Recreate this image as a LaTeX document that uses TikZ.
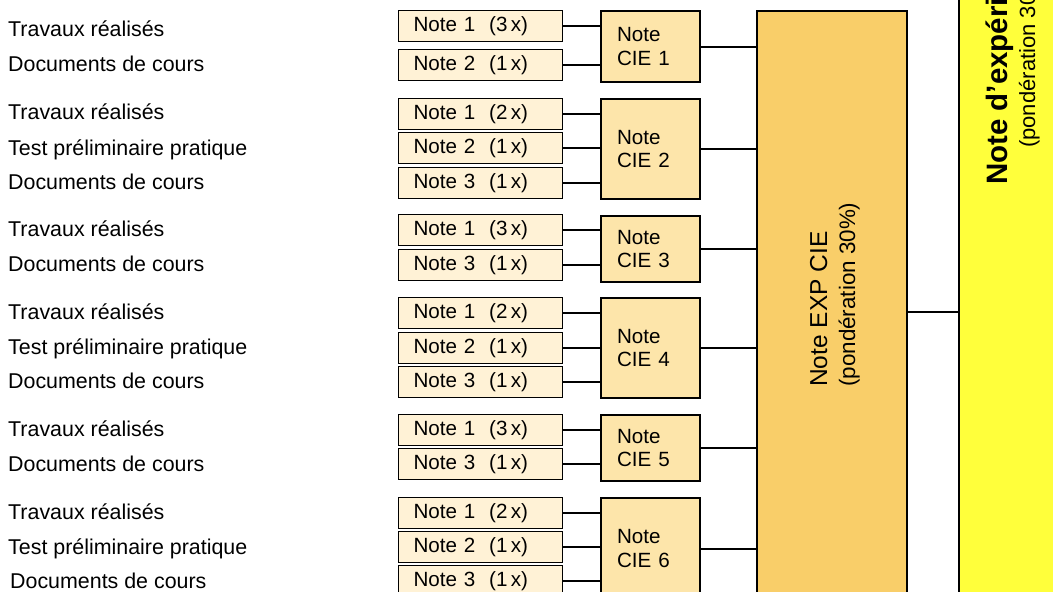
\documentclass[tikz,border=0pt]{standalone}
\usepackage{fontspec}
\setmainfont{Liberation Sans}
\definecolor{notefill}{RGB}{255,242,214}
\definecolor{ciefill}{RGB}{253,229,170}
\definecolor{expfill}{RGB}{249,206,105}
\definecolor{yelfill}{RGB}{255,255,59}
\tikzset{
  notebox/.style={draw, line width=1.2pt, fill=notefill, minimum height=31pt,
    text width=134pt, inner xsep=15pt, inner ysep=0pt, align=left,
    font=\fontsize{20.6}{23.6}\selectfont, anchor=north west},
  ciebox/.style={draw, line width=2.2pt, fill=ciefill, text width=67pt,
    inner xsep=16pt, inner ysep=0pt, align=left,
    font=\fontsize{20.6}{23.6}\selectfont, anchor=north west},
  lab/.style={anchor=base west, inner sep=0pt, font=\fontsize{21.4}{25}\selectfont},
  rottext/.style={rotate=90, anchor=base west, inner sep=0pt},
  link/.style={line width=2pt},
}
\begin{document}
\begin{tikzpicture}[x=1pt,y=-1pt]
\useasboundingbox (0,0) rectangle (1053,592);
\clip (0,0) rectangle (1053,592);
\fill[white] (0,0) rectangle (1053,592);

% left labels
\node[lab] (l11) at (8,36.5) {Travaux réalisés};
\node[lab] (l12) at (8,71.5) {Documents de cours};
\node[lab] (l21) at (8,119.5) {Travaux réalisés};
\node[lab] (l22) at (8,155) {Test préliminaire pratique};
\node[lab] (l23) at (8,189) {Documents de cours};
\node[lab] (l31) at (8,236.5) {Travaux réalisés};
\node[lab] (l33) at (8,271.5) {Documents de cours};
\node[lab] (l41) at (8,319.5) {Travaux réalisés};
\node[lab] (l42) at (8,354.5) {Test préliminaire pratique};
\node[lab] (l43) at (8,388.5) {Documents de cours};
\node[lab] (l51) at (8,436.5) {Travaux réalisés};
\node[lab] (l53) at (8,471.5) {Documents de cours};
\node[lab] (l61) at (8,519.5) {Travaux réalisés};
\node[lab] (l62) at (8,554.5) {Test préliminaire pratique};
\node[lab] (l63) at (10,588.5) {Documents de cours};

% big boxes
\node[draw, line width=2pt, fill=yelfill, minimum width=130pt, minimum height=660pt,
  anchor=west, inner sep=0pt] (yel) at (958,311) {};
\node[draw, line width=2pt, fill=expfill, minimum width=150pt, minimum height=602pt,
  anchor=north west, inner sep=0pt] (exp) at (756,10) {};

% note boxes
\node[notebox] (n11) at (398,10) {Note 1~~(3\,x)};
\node[notebox] (n12) at (398,49) {Note 2~~(1\,x)};
\node[notebox] (n21) at (398,98) {Note 1~~(2\,x)};
\node[notebox] (n22) at (398,132) {Note 2~~(1\,x)};
\node[notebox] (n23) at (398,167) {Note 3~~(1\,x)};
\node[notebox] (n31) at (398,214) {Note 1~~(3\,x)};
\node[notebox] (n33) at (398,249) {Note 3~~(1\,x)};
\node[notebox] (n41) at (398,297) {Note 1~~(2\,x)};
\node[notebox] (n42) at (398,332) {Note 2~~(1\,x)};
\node[notebox] (n43) at (398,366) {Note 3~~(1\,x)};
\node[notebox] (n51) at (398,414) {Note 1~~(3\,x)};
\node[notebox] (n53) at (398,448) {Note 3~~(1\,x)};
\node[notebox] (n61) at (398,497) {Note 1~~(2\,x)};
\node[notebox] (n62) at (398,531) {Note 2~~(1\,x)};
\node[notebox] (n63) at (398,565) {Note 3~~(1\,x)};

% CIE boxes
\node[ciebox, minimum height=71pt] (c1) at (600,10) {Note\\CIE 1};
\node[ciebox, minimum height=100pt] (c2) at (600,98) {Note\\CIE 2};
\node[ciebox, minimum height=66pt] (c3) at (600,215) {Note\\CIE 3};
\node[ciebox, minimum height=100pt] (c4) at (600,297) {Note\\CIE 4};
\node[ciebox, minimum height=66pt] (c5) at (600,414) {Note\\CIE 5};
\node[ciebox, minimum height=101pt] (c6) at (600,497) {Note\\CIE 6};

% connectors
\foreach \n/\c in {n11/c1,n12/c1,n21/c2,n22/c2,n23/c2,n31/c3,n33/c3,
                   n41/c4,n42/c4,n43/c4,n51/c5,n53/c5,n61/c6,n62/c6,n63/c6}
  \draw[link] (\n.east) -- (\n.east -| \c.west);
\foreach \c in {c1,c2,c3,c4,c5,c6}
  \draw[link] (\c.east) -- (\c.east -| exp.west);
\draw[link] (exp.east) -- (exp.east -| yel.west);

% rotated texts
\node[rottext, font=\fontsize{24.5}{28}\selectfont] (expt1) at (827,387) {Note EXP CIE};
\node[rottext, font=\fontsize{22.4}{26}\selectfont] (expt2) at (855,387) {(pondération 30\%)};
\node[rottext, font=\bfseries\fontsize{29.5}{34}\selectfont] (yelt1) at (1007,185) {Note d’expéri};
\node[rottext, font=\fontsize{22}{26}\selectfont] (yelt2) at (1035,148) {(pondération 30};
\end{tikzpicture}
\end{document}
